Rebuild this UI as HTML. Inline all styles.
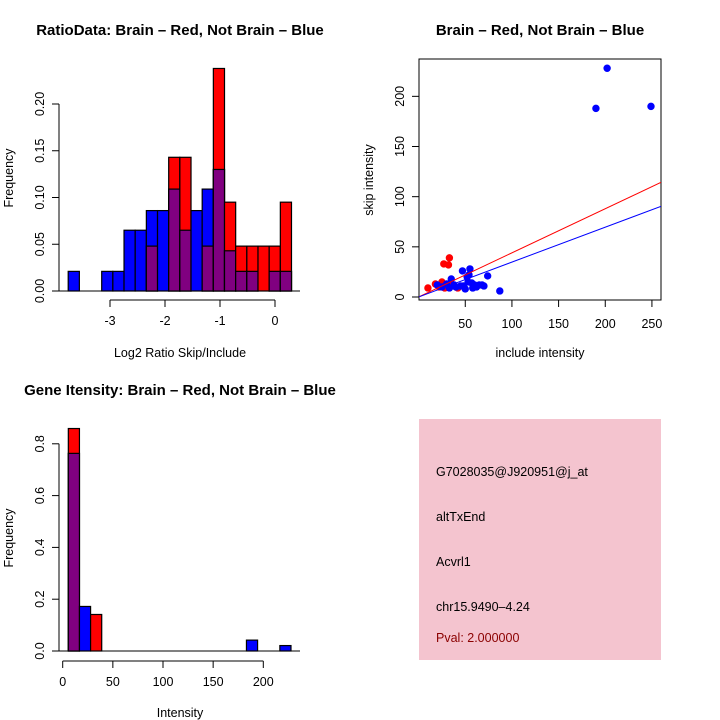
<!DOCTYPE html>
<html><head><meta charset="utf-8"><style>
html,body{margin:0;padding:0;background:#fff;}
svg{display:block;font-family:"Liberation Sans",Arial,sans-serif;}
</style></head><body>
<svg id="chart" width="720" height="720" viewBox="0 0 720 720" xmlns="http://www.w3.org/2000/svg">
<rect width="720" height="720" fill="#fff"/>
<text x="180" y="35" text-anchor="middle" font-size="15" font-weight="bold">RatioData: Brain – Red, Not Brain – Blue</text>
<text x="540" y="35" text-anchor="middle" font-size="15" font-weight="bold">Brain – Red, Not Brain – Blue</text>
<text x="180" y="395" text-anchor="middle" font-size="15" font-weight="bold">Gene Itensity: Brain – Red, Not Brain – Blue</text>
<g id="p1"></g>
<g id="p2"></g>
<g id="p3"></g>
<g>
<rect x="419" y="419" width="242" height="241" fill="#f4c4cf"/>
<g font-size="12.5" fill="#000">
<text x="436" y="476">G7028035@J920951@j_at</text>
<text x="436" y="521">altTxEnd</text>
<text x="436" y="566">Acvrl1</text>
<text x="436" y="611">chr15.9490–4.24</text>
<text x="436" y="642" fill="#8b0000">Pval: 2.000000</text>
</g></g>
</svg>
<script>
// Ratio histogram data
const ratioStart = -3.76;
const ratioBinWidth = 0.203;
const ratioBlue = [0.021,0,0,0.021,0.021,0.065,0.065,0.086,0.086,0.109,0.065,0.086,0.109,0.130,0.043,0.021,0.021,0,0.021,0.021];
const ratioRed  = [0,0,0,0,0,0,0,0.048,0,0.143,0.143,0,0.048,0.238,0.095,0.048,0.048,0.048,0.048,0.095];
const ratioXTicks = [-3,-2,-1,0];
const ratioYTicks = [0,0.05,0.10,0.15,0.20];
const ratioYLabels = ["0.00","0.05","0.10","0.15","0.20"];
// Scatter data
const blueX = [190,202,249,87,74,55,47,52,53,35,20,30,40,60,68,58,50,62,45,25,70,57,33,54,65,38,48];
const blueY = [188,228,190,6,21,28,26,20,15,18,12,13,10,12,12,9,8,10,11,10,11,14,9,22,12,12,11];
const redX = [10,18,25,27,32,33,22,28,42,30,35];
const redY = [9,13,15,33,32,39,10,9,9,12,11];
const redSlope = 0.44;
const blueSlope = 0.348;
const scatXTicks = [50,100,150,200,250];
const scatYTicks = [0,50,100,150,200];
// Intensity histogram data
const intStart = 5.6;
const intBinWidth = 11.1;
const intBlue = [0.763,0.172,0,0,0,0,0,0,0,0,0,0,0,0,0,0,0.042,0,0,0.021];
const intRed  = [0.859,0,0.141,0,0,0,0,0,0,0,0,0,0,0,0,0,0,0,0,0];
const intXTicks = [0,50,100,150,200];
const intYTicks = [0,0.2,0.4,0.6,0.8];
const intYLabels = ["0.0","0.2","0.4","0.6","0.8"];

const NS="http://www.w3.org/2000/svg";
function mk(parent,tag,attrs){const e=document.createElementNS(NS,tag);for(const k in attrs)e.setAttribute(k,attrs[k]);parent.appendChild(e);return e;}

function histogram(g, start, bw, blue, red, sx, sy, xTicks, yTicks, yLabels, axisY, yAxisX, xLabel, yLabelY, xLabelY){
  for(let i=0;i<blue.length;i++){
    const x0=sx(start+i*bw), x1=sx(start+(i+1)*bw);
    const b=blue[i], r=red[i], m=Math.min(b,r);
    if(b>0){const e=mk(g,'rect',{x:x0,y:sy(b),width:x1-x0,height:sy(0)-sy(b),fill:'#0000ff',stroke:'#000','stroke-width':1.2});
      
      }
    if(r>0){const e=mk(g,'rect',{x:x0,y:sy(r),width:x1-x0,height:sy(0)-sy(r),fill:'#ff0000',stroke:'#000','stroke-width':1.2});
      
      }
    if(m>0){const e=mk(g,'rect',{x:x0,y:sy(m),width:x1-x0,height:sy(0)-sy(m),fill:'#800080',stroke:'#000','stroke-width':1.2});
      
      }
  }
  const ya=mk(g,'line',{x1:yAxisX,x2:yAxisX,y1:sy(yTicks[0]),y2:sy(yTicks[yTicks.length-1]),stroke:'#000'});
  
  
  yTicks.forEach((t,i)=>{
    mk(g,'line',{x1:yAxisX-7,x2:yAxisX,y1:sy(t),y2:sy(t),stroke:'#000'});
    const tx=mk(g,'text',{x:0,y:0,'font-size':12.5,'text-anchor':'middle',transform:`translate(${yAxisX-15},${sy(t)}) rotate(-90)`});
    tx.textContent=yLabels[i];
    
    
  });
  const xa=mk(g,'line',{x1:sx(xTicks[0]),x2:sx(xTicks[xTicks.length-1]),y1:axisY,y2:axisY,stroke:'#000'});
  
  
  xTicks.forEach(t=>{
    mk(g,'line',{x1:sx(t),x2:sx(t),y1:axisY,y2:axisY+7,stroke:'#000'});
    const tx=mk(g,'text',{x:sx(t),y:axisY+25,'font-size':12.5,'text-anchor':'middle'});
    tx.textContent=String(t);
    
    
  });
  const xl=mk(g,'text',{x:180,y:xLabelY,'font-size':12.5,'text-anchor':'middle'});
  xl.textContent=xLabel;
  
  
  const yl=mk(g,'text',{x:0,y:0,'font-size':12.5,'text-anchor':'middle',transform:`translate(13,${yLabelY}) rotate(-90)`});
  yl.textContent='Frequency';
  
  
}

(function(){
  const g=document.getElementById('p1');
  const sx=v=>275+v*55;
  const sy=v=>291-v*935;
  mk(g,'line',{x1:59,x2:300,y1:291,y2:291,stroke:'#000'});
  histogram(g,ratioStart,ratioBinWidth,ratioBlue,ratioRed,sx,sy,ratioXTicks,ratioYTicks,ratioYLabels,300,59,'Log2 Ratio Skip/Include',178,357);
})();

(function(){
  const g=document.getElementById('p3');
  const sx=v=>62.7+v*1.003;
  const sy=v=>651-v*259;
  mk(g,'line',{x1:59,x2:300,y1:651,y2:651,stroke:'#000'});
  histogram(g,intStart,intBinWidth,intBlue,intRed,sx,sy,intXTicks,intYTicks,intYLabels,661,59,'Intensity',538,717);
})();

(function(){
  const g=document.getElementById('p2');
  const sx=v=>418.6+v*0.9333;
  const sy=v=>297-v*1.0033;
  const L=419,R=661,T=59,B=300;
  const box=mk(g,'rect',{x:L,y:T,width:R-L,height:B-T,fill:'none',stroke:'#000'});
  
  
  const clip=mk(g,'clipPath',{id:'sc'});mk(clip,'rect',{x:L,y:T,width:R-L,height:B-T});
  const pts=mk(g,'g',{'clip-path':'url(#sc)'});
  redX.forEach((x,i)=>{const c=mk(pts,'circle',{cx:sx(x),cy:sy(redY[i]),r:3.7,fill:'#ff0000'});
    
    });
  blueX.forEach((x,i)=>{const c=mk(pts,'circle',{cx:sx(x),cy:sy(blueY[i]),r:3.7,fill:'#0000ff'});
    
    });
  const xmax=(R-418.6)/0.9333;
  const rl=mk(pts,'line',{x1:sx(0),y1:sy(0),x2:sx(xmax),y2:sy(redSlope*xmax),stroke:'#ff0000','stroke-width':1});
  
  
  const bl=mk(pts,'line',{x1:sx(0),y1:sy(0),x2:sx(xmax),y2:sy(blueSlope*xmax),stroke:'#0000ff','stroke-width':1});
  
  
  scatXTicks.forEach(t=>{mk(g,'line',{x1:sx(t),x2:sx(t),y1:B,y2:B+7,stroke:'#000'});
    const tx=mk(g,'text',{x:sx(t),y:B+28,'font-size':12.5,'text-anchor':'middle'});tx.textContent=String(t);
    
    });
  scatYTicks.forEach(t=>{mk(g,'line',{x1:L-7,x2:L,y1:sy(t),y2:sy(t),stroke:'#000'});
    const tx=mk(g,'text',{x:0,y:0,'font-size':12.5,'text-anchor':'middle',transform:`translate(${L-15},${sy(t)}) rotate(-90)`});tx.textContent=String(t);
    
    });
  const xl=mk(g,'text',{x:540,y:357,'font-size':12.5,'text-anchor':'middle'});xl.textContent='include intensity';
  
  
  const yl=mk(g,'text',{x:0,y:0,'font-size':12.5,'text-anchor':'middle',transform:'translate(373,180) rotate(-90)'});yl.textContent='skip intensity';
  
  
})();
</script>
</body></html>
